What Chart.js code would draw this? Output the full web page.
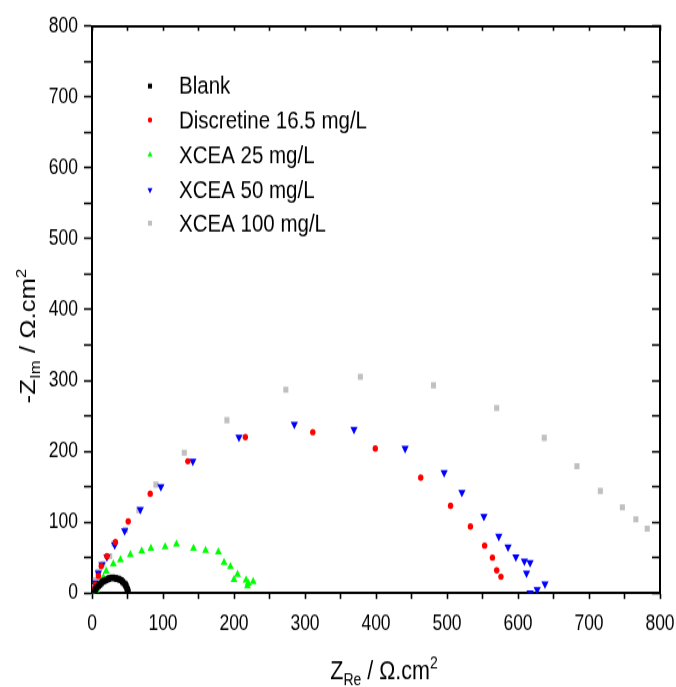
<!DOCTYPE html>
<html>
<head>
<meta charset="utf-8">
<script src="https://cdn.jsdelivr.net/npm/chart.js@4.4.0/dist/chart.umd.min.js"></script>
<style>
  html, body { margin: 0; background: #fff; }
  #wrap { width: 676px; height: 687px; overflow: hidden; }
  /* the reference is stretched vertically, so the canvas is too */
  #nyq { display: block; transform: scaleY(1.2); transform-origin: 0 0; }
</style>
</head>
<body>
<div id="wrap"><canvas id="nyq" width="676" height="572"></canvas></div>
<script>
Chart.defaults.font.family = "'Liberation Sans', Arial, sans-serif";
Chart.defaults.color = '#000';

// Nyquist data (Z' , -Z'')
const blankX = [3, 5, 7, 9, 11, 13, 15, 17, 19, 21, 23, 25, 27, 29, 31, 33, 35, 37, 39, 41, 43, 45, 47, 48, 49, 50, 51];
const blankY = [2, 5, 8, 10, 12, 14, 16, 17, 18, 19, 20, 21, 21, 22, 21, 21, 20, 20, 19, 18, 16, 14, 12, 10, 7, 5, 2];

const discX = [2, 5, 9, 13, 21, 33, 51, 82, 135, 216, 311, 399, 463, 505, 533, 553, 564, 570, 576];
const discY = [5, 12, 24, 38, 52, 72, 101, 140, 186, 220, 227, 204, 163, 123, 94, 67, 50, 32, 23];

const x25X = [1, 6, 11, 16, 20, 30, 40, 54, 70, 83, 103, 119, 143, 160, 178, 186, 195, 205, 200, 217, 220, 227, 219];
const x25Y = [1, 4, 14, 22, 31, 41, 47, 54, 59, 63, 65, 69, 63, 60, 58, 43, 37, 26, 19, 18, 14, 16, 10];

const x50X = [0, 2, 5, 9, 14, 21, 32, 46, 68, 97, 142, 207, 285, 369, 441, 496, 521, 552, 573, 586, 597, 609, 617, 612, 638, 627, 617];
const x50Y = [0, 6, 14, 28, 40, 51, 68, 88, 118, 150, 186, 220, 238, 231, 204, 170, 142, 108, 80, 65, 51, 45, 43, 28, 13, 5, 0];

const x100X = [0, 1.5, 4.7, 8.5, 15.5, 25, 31, 47, 66, 90, 130, 190, 273, 378, 481, 570, 637, 683, 716, 747, 766, 782];
const x100Y = [0, 8, 18, 30, 41, 52, 70, 89, 117, 153, 198, 244, 287, 305, 293, 261, 219, 179, 144, 121, 104, 91];

const seriesNames = ['Blank', 'Discretine 16.5 mg/L', 'XCEA 25 mg/L', 'XCEA 50 mg/L', 'XCEA 100 mg/L'];

// plot box inside the 676x572 canvas
const CW = 676, CH = 572;
const PLOT_LEFT = 92, PLOT_RIGHT = 660, PLOT_TOP = 21.7, PLOT_BOTTOM = 494.2;

function pts(xs, ys) {
    return xs.map((x, i) => ({x: x, y: ys[i]}));
}

const styles = [
    {color: '#000000', pointStyle: 'rect', radius: 3.6, rotation: 0},
    {color: '#ff0000', pointStyle: 'circle', radius: 2.7, rotation: 0},
    {color: '#00ff00', pointStyle: 'triangle', radius: 4, rotation: 0},
    {color: '#0000ff', pointStyle: 'triangle', radius: 4.2, rotation: 180},
    {color: '#c0c0c0', pointStyle: 'rect', radius: 3.6, rotation: 0}
];

const allData = [pts(blankX, blankY), pts(discX, discY), pts(x25X, x25Y), pts(x50X, x50Y), pts(x100X, x100Y)];

const datasets = allData.map((d, i) => ({
    label: seriesNames[i],
    data: d,
    showLine: false,
    pointStyle: styles[i].pointStyle,
    pointRadius: styles[i].radius,
    pointRotation: styles[i].rotation,
    pointBackgroundColor: styles[i].color,
    pointBorderColor: styles[i].color,
    pointBorderWidth: 0,
    pointHoverRadius: styles[i].radius
}));

function axis(position, tickLen, showLabels, size) {
    return {
        type: 'linear',
        position: position,
        min: 0,
        max: 800,
        ticks: {
            display: showLabels,
            stepSize: 50,
            autoSkip: false,
            maxRotation: 0,
            padding: position === 'left' ? 6 : 10,
            font: {size: 17.5},
            callback: v => (v % 100 === 0 ? v : '')
        },
        grid: {
            drawOnChartArea: false,
            drawTicks: true,
            tickLength: tickLen,
            tickWidth: 1.6,
            tickColor: '#000'
        },
        border: {display: true, color: '#000', width: 2},
        afterFit: s => {
            if (position === 'left' || position === 'right') s.width = size;
            else s.height = size;
            // labels may overhang the box, don't let them shrink it
            s.paddingLeft = 0;
            s.paddingRight = 0;
            s.paddingTop = 0;
            s.paddingBottom = 0;
        }
    };
}

// legend + axis titles with sub/superscripts
const decorPlugin = {
    id: 'decor',
    afterDraw(chart) {
        const ctx = chart.ctx;
        ctx.save();

        // legend
        const rows = [71.7, 100, 129, 158.3, 186];
        ctx.font = "20.5px 'Liberation Sans', Arial, sans-serif";
        ctx.textBaseline = 'middle';
        ctx.textAlign = 'left';
        rows.forEach((ry, i) => {
            ctx.fillStyle = styles[i].color;
            ctx.strokeStyle = styles[i].color;
            Chart.helpers.drawPoint(ctx, {
                pointStyle: styles[i].pointStyle,
                rotation: styles[i].rotation,
                radius: styles[i].pointStyle === 'circle' ? 2.2 : 2.9,
                borderWidth: 0
            }, 150, ry);
            ctx.fillStyle = '#000';
            ctx.fillText(seriesNames[i], 179, ry + 1);
        });

        const big = "21.5px 'Liberation Sans', Arial, sans-serif";
        const small = "14px 'Liberation Sans', Arial, sans-serif";
        const parts = (main1, sub, main2, sup) => [
            {t: main1, f: big, dy: 0},
            {t: sub, f: small, dy: 5},
            {t: main2, f: big, dy: 0},
            {t: sup, f: small, dy: -9}
        ];
        const drawParts = (list, x0, y0) => {
            let x = x0;
            list.forEach(p => {
                ctx.font = p.f;
                ctx.fillText(p.t, x, y0 + p.dy);
                x += ctx.measureText(p.t).width;
            });
        };
        const widthOf = list => list.reduce((w, p) => {
            ctx.font = p.f;
            return w + ctx.measureText(p.t).width;
        }, 0);

        ctx.fillStyle = '#000';
        ctx.textBaseline = 'alphabetic';

        // x title
        const xt = parts('Z', 'Re', ' / \u03A9.cm', '2');
        drawParts(xt, 384 - widthOf(xt) / 2, 566);

        // y title
        const yt = parts('-Z', 'Im', ' / \u03A9.cm', '2');
        ctx.translate(35, 280);
        ctx.rotate(-Math.PI / 2);
        drawParts(yt, -widthOf(yt) / 2, 0);

        ctx.restore();
    }
};

const nyqChart = new Chart(document.getElementById('nyq').getContext('2d'), {
    type: 'scatter',
    data: {datasets: datasets},
    options: {
        responsive: false,
        animation: false,
        devicePixelRatio: 1,
        layout: {padding: 0},
        plugins: {legend: {display: false}, tooltip: {enabled: false}},
        scales: {
            x: axis('bottom', 5, true, CH - PLOT_BOTTOM),
            y: axis('left', 8, true, PLOT_LEFT),
            x2: axis('top', -4, false, PLOT_TOP),
            y2: axis('right', -8, false, CW - PLOT_RIGHT)
        }
    },
    plugins: [decorPlugin]
});
</script>
</body>
</html>
